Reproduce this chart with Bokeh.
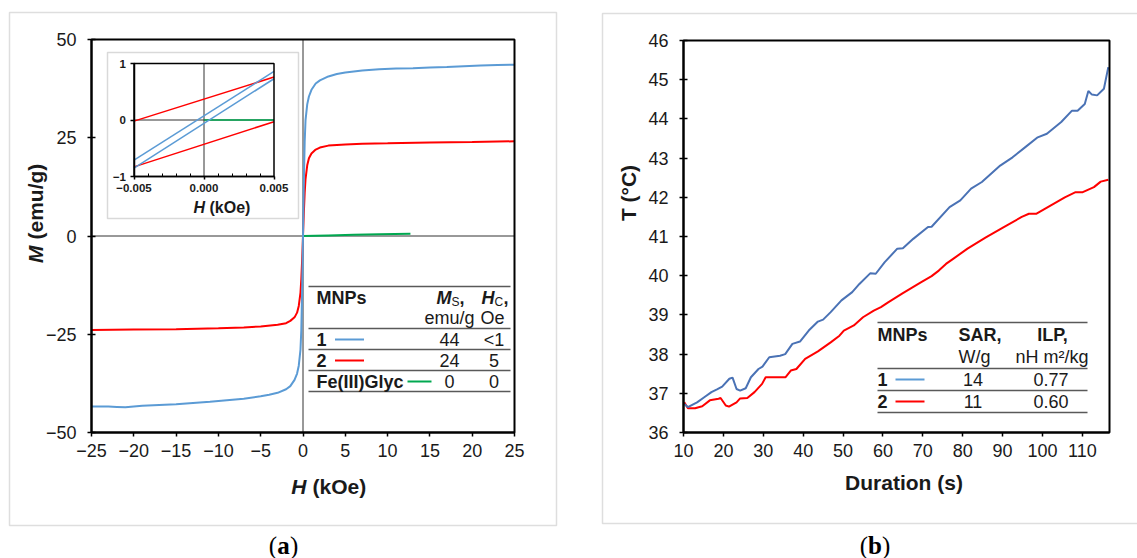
import math
from bokeh.plotting import figure
from bokeh.models import Range1d, LinearAxis, FixedTicker, Label
from bokeh.layouts import row
from bokeh.embed import file_html
from bokeh.resources import INLINE

SANS = "Liberation Sans"
SERIF = "Liberation Serif"
TXT = "#1a1a1a"

# ---------------- data: panel (a) magnetization curves ----------------
H_1 = [-25, -23, -22, -21, -19, -17, -15, -13, -11, -9, -7, -5, -4, -3, -2, -1.5, -1,
       -0.7, -0.5, -0.3, -0.2, -0.1, 0, 0.1, 0.2, 0.3, 0.5, 0.7, 1, 1.5, 2, 3, 4, 5,
       7, 9, 11, 13, 15, 17, 19, 21, 23, 25]
M_1 = [-43.4, -43.4, -43.5, -43.6, -43.2, -43.0, -42.8, -42.5, -42.2, -41.8, -41.4, -40.8,
       -40.4, -39.9, -39.0, -38.2, -36.6, -35.0, -33.0, -29.0, -24.0, -14.0, 0.0, 14.0,
       24.0, 29.5, 33.5, 35.5, 37.2, 38.8, 39.6, 40.6, 41.2, 41.6, 42.1, 42.4, 42.6,
       42.7, 42.9, 43.0, 43.2, 43.4, 43.5, 43.6]
H_2 = [-25, -20, -15, -10, -7, -5, -3, -2, -1.5, -1, -0.7, -0.5, -0.3, -0.2, -0.1, 0,
       0.1, 0.2, 0.3, 0.5, 0.7, 1, 1.5, 2, 3, 5, 7, 10, 15, 20, 25]
M_2 = [-23.9, -23.8, -23.7, -23.5, -23.3, -23.0, -22.6, -22.2, -21.6, -20.7, -19.5, -17.8,
       -14.5, -11.0, -6.0, 0.0, 6.0, 11.0, 14.5, 18.0, 19.8, 21.0, 22.0, 22.5, 23.0, 23.3,
       23.5, 23.6, 23.8, 23.9, 24.1]
H_3 = [0, 3, 6, 9, 12.7]
M_3 = [0, 0.15, 0.3, 0.45, 0.6]

# inset (low field)
Hi = [-0.005, 0.005]
Mi1_up = [-0.71, 0.86]
Mi1_dn = [-0.85, 0.73]
Mi2_up = [-0.02, 0.76]
Mi2_dn = [-0.83, -0.03]
Hi3 = [0.0, 0.005]
Mi3 = [0.0, 0.0]

# table (a)
tabA_names = ["1", "2", "Fe(III)Glyc"]
tabA_Ms = ["44", "24", "0"]
tabA_Hc = ["<1", "5", "0"]

xticks_a = [-25, -20, -15, -10, -5, 0, 5, 10, 15, 20, 25]
yticks_a = [-50, -25, 0, 25, 50]
xticks_in = [-0.005, 0.0, 0.005]
xminor_in = [-0.004, -0.003, -0.002, -0.001, 0.001, 0.002, 0.003, 0.004]
yticks_in = [-1, 0, 1]

# ---------------- data: panel (b) heating curves ----------------
t_1 = [10.2, 11.1, 13.4, 15.2, 17, 18.4, 19.7, 21.5, 22.3, 23.3, 24.2, 25.6, 26.9, 28.8,
       29.8, 31.5, 34.2, 35.5, 37.3, 39.2, 41.4, 43.7, 45, 46.9, 49.6, 52.3, 54.1, 56.8,
       58.2, 60.4, 63.6, 65, 67.6, 71.3, 72.2, 76.7, 79.4, 82.1, 84.8, 89.4, 92.5, 95.7,
       98.8, 101.1, 104.7, 107.4, 108.8, 110.6, 111.5, 112.4, 113.7, 115.4, 116.5]
T_1 = [36.73, 36.65, 36.77, 36.9, 37.03, 37.1, 37.17, 37.37, 37.4, 37.11, 37.07, 37.13,
       37.41, 37.62, 37.68, 37.92, 37.96, 38.0, 38.26, 38.32, 38.6, 38.83, 38.88, 39.07,
       39.37, 39.58, 39.79, 40.06, 40.05, 40.34, 40.69, 40.7, 40.94, 41.24, 41.25, 41.75,
       41.92, 42.22, 42.39, 42.81, 43.02, 43.28, 43.53, 43.62, 43.92, 44.21, 44.21, 44.38,
       44.71, 44.62, 44.6, 44.77, 45.32]
t_2 = [10.2, 11.1, 12.9, 14.7, 16.6, 18.8, 19.3, 20.6, 21.4, 23.3, 24.2, 26.0, 27.8, 29.7,
       30.6, 32.4, 35.6, 36.9, 38.3, 40.5, 43.7, 46.9, 49.1, 50.2, 52.7, 55, 57.7, 59.5,
       61.3, 64.9, 67.2, 69.5, 72.2, 74, 75.8, 77.6, 81.2, 85.7, 90.3, 94.8, 96.6, 98.4,
       102, 105.6, 108.3, 110.1, 112.9, 114.6, 116.5]
T_2 = [36.77, 36.62, 36.62, 36.67, 36.82, 36.86, 36.88, 36.69, 36.66, 36.77, 36.87, 36.88,
       37.03, 37.24, 37.41, 37.41, 37.41, 37.58, 37.62, 37.88, 38.07, 38.3, 38.47, 38.6,
       38.73, 38.94, 39.11, 39.2, 39.32, 39.55, 39.69, 39.83, 39.99, 40.13, 40.3, 40.43,
       40.69, 40.97, 41.24, 41.5, 41.58, 41.58, 41.79, 42.0, 42.13, 42.13, 42.26, 42.4,
       42.45]
tabB_SAR = ["14", "11"]
tabB_ILP = ["0.77", "0.60"]
xticks_b = [10, 20, 30, 40, 50, 60, 70, 80, 90, 100, 110]
yticks_b = [36, 37, 38, 39, 40, 41, 42, 43, 44, 45, 46]

BLUE_A = "#5b9bd5"
RED = "#ff0000"
GREEN = "#00a850"
BLUE_B = "#4a72b5"

# ---------------- layout constants (page pixels) ----------------
WA, WB, HH = 560, 577, 558
AL, AR, AT, AB = 91, 514, 39, 432          # data box of (a)
BL, BR, BT, BB = 683, 1109, 40, 432        # data box of (b)
IL, IR, IT, IB = 133.5, 273.5, 63, 176     # inset axes box
XA0, XA1, YA0, YA1 = -25, 25, -50, 50
XB0, XB1, YB0, YB1 = 10, 116.8, 36, 46


def mapper(L, R, T, B, x0, x1, y0, y1):
    def f(px, py):
        return (x0 + (px - L) * (x1 - x0) / (R - L),
                y1 - (py - T) * (y1 - y0) / (B - T))
    return f


def style_axis(ax, size="18px", lw=2):
    ax.axis_line_color = "black"
    ax.axis_line_width = lw
    ax.major_tick_line_color = "black"
    ax.major_tick_line_width = 1.5
    ax.minor_tick_line_color = None
    ax.major_label_text_font = SANS
    ax.major_label_text_font_size = size
    ax.major_label_text_color = TXT


def lab(p, m, px, py, text, size=18, style="normal", align="left", angle=0.0,
        font=SANS, color=TXT):
    x, y = m(px, py)
    p.add_layout(Label(x=x, y=y, text=text, text_font=font, text_font_size=f"{size}px",
                       text_font_style=style, text_align=align, text_baseline="middle",
                       text_color=color, angle=angle))


def hline(p, m, x0, x1, y, color="#595959", width=1.5):
    a = m(x0, y)
    b = m(x1, y)
    p.segment(x0=[a[0]], y0=[a[1]], x1=[b[0]], y1=[b[1]], line_color=color, line_width=width)


def caption(p, m, cx, cy, letter, wl):
    lab(p, m, cx, cy, letter, size=25, style="bold", align="center", font=SERIF, color="black")
    lab(p, m, cx - wl / 2, cy, "(", size=25, align="right", font=SERIF, color="black")
    lab(p, m, cx + wl / 2, cy, ")", size=25, align="left", font=SERIF, color="black")


def panel_frame(p, m, l, r, t, b):
    x0, y1 = m(l, t)
    x1, y0 = m(r, b)
    p.quad(left=[x0], right=[x1], bottom=[y0], top=[y1], fill_color=None,
           line_color="#dedede", line_width=1.5)


def make_fig(width, m, page_left):
    x0, y1 = m(page_left, 0)
    x1, y0 = m(page_left + width, HH)
    p = figure(width=width, height=HH, x_range=Range1d(x0, x1), y_range=Range1d(y0, y1),
               output_backend="svg", toolbar_location=None,
               x_axis_location=None, y_axis_location=None,
               min_border=0, min_border_left=0, min_border_right=0,
               min_border_top=0, min_border_bottom=0)
    p.grid.visible = False
    p.background_fill_color = "white"
    p.border_fill_color = "white"
    p.outline_line_color = None
    return p


# ======================= panel (a) =======================
ma = mapper(AL, AR, AT, AB, XA0, XA1, YA0, YA1)
pa = make_fig(WA, ma, 0)
panel_frame(pa, ma, 9, 556, 12, 525)

# zero lines
pa.segment(x0=[0, XA0], y0=[YA0, 0], x1=[0, XA1], y1=[YA1, 0],
           line_color="#333333", line_width=1)

pa.line(H_3, M_3, line_color=GREEN, line_width=2)
pa.line(H_2, M_2, line_color=RED, line_width=2)
pa.line(H_1, M_1, line_color=BLUE_A, line_width=2)

# plot box
pa.quad(left=[XA0], right=[XA1], bottom=[YA0], top=[YA1], fill_color=None,
        line_color="black", line_width=2)

xa = LinearAxis(fixed_location=YA0, bounds=(XA0, XA1), ticker=FixedTicker(ticks=xticks_a))
style_axis(xa)
xa.major_label_overrides = {v: str(v).replace("-", "\u2212") for v in xticks_a}
xa.major_tick_in, xa.major_tick_out, xa.major_label_standoff = 0, 4, 7
pa.add_layout(xa, "below")
ya = LinearAxis(fixed_location=XA0, bounds=(YA0, YA1), ticker=FixedTicker(ticks=yticks_a))
style_axis(ya)
ya.major_label_overrides = {v: str(v).replace("-", "\u2212") for v in yticks_a}
ya.major_tick_in, ya.major_tick_out, ya.major_label_standoff = 4, 4, 11
pa.add_layout(ya, "left")

# ---- inset via extra ranges ----
sx = 0.01 / (IR - IL)
sy = 2.0 / (IB - IT)
ix0 = -0.005 - IL * sx
ix1 = ix0 + WA * sx
iy1 = 1 + IT * sy
iy0 = iy1 - HH * sy
pa.extra_x_ranges = {"ix": Range1d(ix0, ix1)}
pa.extra_y_ranges = {"iy": Range1d(iy0, iy1)}
mi = mapper(0, WA, 0, HH, ix0, ix1, iy0, iy1)

fx0, fy1 = mi(107, 52)
fx1, fy0 = mi(298, 218)
pa.quad(left=[fx0], right=[fx1], bottom=[fy0], top=[fy1], fill_color="white",
        line_color="#d9d9d9", line_width=1.5, x_range_name="ix", y_range_name="iy")
pa.segment(x0=[0, Hi[0]], y0=[yticks_in[0], 0], x1=[0, Hi[1]], y1=[yticks_in[-1], 0],
           line_color="#333333", line_width=1, x_range_name="ix", y_range_name="iy")
pa.line(Hi3, Mi3, line_color=GREEN, line_width=1.5, x_range_name="ix", y_range_name="iy")
for mm in (Mi2_up, Mi2_dn):
    pa.line(Hi, mm, line_color=RED, line_width=1.5, x_range_name="ix", y_range_name="iy")
for mm in (Mi1_up, Mi1_dn):
    pa.line(Hi, mm, line_color=BLUE_A, line_width=1.5, x_range_name="ix", y_range_name="iy")
pa.quad(left=[xticks_in[0]], right=[xticks_in[-1]], bottom=[yticks_in[0]], top=[yticks_in[-1]],
        fill_color=None, line_color="black", line_width=1.5, x_range_name="ix", y_range_name="iy")

iya = LinearAxis(x_range_name="ix", y_range_name="iy", fixed_location=xticks_in[0],
                 bounds=(yticks_in[0], yticks_in[-1]), ticker=FixedTicker(ticks=yticks_in))
style_axis(iya, "11.5px", 1.5)
iya.major_label_text_font_style = "bold"
iya.major_tick_in, iya.major_tick_out, iya.major_label_standoff = 0, 4, 4
iya.major_label_overrides = {-1: "\u22121", 0: "0", 1: "1"}
pa.add_layout(iya, "left")

ixa = LinearAxis(x_range_name="ix", y_range_name="iy", fixed_location=yticks_in[0],
                 bounds=(xticks_in[0], xticks_in[-1]),
                 ticker=FixedTicker(ticks=xticks_in, minor_ticks=xminor_in))
style_axis(ixa, "11.5px", 1.5)
ixa.major_label_text_font_style = "bold"
ixa.minor_tick_line_color = "black"
ixa.minor_tick_in, ixa.minor_tick_out = 3, 0
ixa.major_tick_in, ixa.major_tick_out, ixa.major_label_standoff = 0, 3, 4
ixa.major_label_overrides = {-0.005: "\u22120.005", 0.0: "0.000", 0.005: "0.005"}
pa.add_layout(ixa, "below")

lab(pa, ma, 204.5, 207, "H", size=16, style="bold italic", align="right")
lab(pa, ma, 209, 207, "(kOe)", size=16, style="bold")

# ---- axis titles (a) ----
lab(pa, ma, 306, 486, "H", size=21, style="bold italic", align="right")
lab(pa, ma, 312, 486, "(kOe)", size=21, style="bold")
lab(pa, ma, 35, 245, "M", size=21, style="bold italic", align="right", angle=math.pi / 2)
lab(pa, ma, 35, 239, "(emu/g)", size=21, style="bold", align="left", angle=math.pi / 2)

# ---- table (a) ----
for yy in (286, 328, 349, 370, 391):
    hline(pa, ma, 308, 510, yy)
lab(pa, ma, 316, 297, "MNPs", style="bold")
lab(pa, ma, 436, 297, "M", style="bold italic")
lab(pa, ma, 451, 301, "S", size=12)
lab(pa, ma, 459, 297, ",", style="bold")
lab(pa, ma, 481, 297, "H", style="bold italic")
lab(pa, ma, 494, 301, "C", size=12)
lab(pa, ma, 503, 297, ",", style="bold")
lab(pa, ma, 474, 317, "emu/g", align="right")
lab(pa, ma, 504, 317, "Oe", align="right")
rows_y = [339, 360, 381]
samp = [(334.5, 363.5), (334.5, 363.5), (407, 431)]
cols = [BLUE_A, RED, GREEN]
for i in range(3):
    lab(pa, ma, 316, rows_y[i], tabA_names[i], style="bold")
    hline(pa, ma, samp[i][0], samp[i][1], rows_y[i], color=cols[i], width=2)
    lab(pa, ma, 449, rows_y[i], tabA_Ms[i], align="center")
    lab(pa, ma, 493.5, rows_y[i], tabA_Hc[i], align="center")

caption(pa, ma, 283, 545, "a", 13)

# ======================= panel (b) =======================
mb = mapper(BL, BR, BT, BB, XB0, XB1, YB0, YB1)
pb = make_fig(WB, mb, WA)
panel_frame(pb, mb, 602, 1160, 13, 523)

pb.line(t_2, T_2, line_color=RED, line_width=2)
pb.line(t_1, T_1, line_color=BLUE_B, line_width=2)

pb.quad(left=[XB0], right=[XB1], bottom=[YB0], top=[YB1], fill_color=None,
        line_color="black", line_width=2)

xb = LinearAxis(fixed_location=YB0, bounds=(XB0, XB1), ticker=FixedTicker(ticks=xticks_b))
style_axis(xb)
xb.major_tick_in, xb.major_tick_out, xb.major_label_standoff = 0, 4, 7
pb.add_layout(xb, "below")
yb = LinearAxis(fixed_location=XB0, bounds=(YB0, YB1), ticker=FixedTicker(ticks=yticks_b))
style_axis(yb)
yb.major_tick_in, yb.major_tick_out, yb.major_label_standoff = 4, 4, 11
pb.add_layout(yb, "left")

lab(pb, mb, 903.5, 482, "Duration (s)", size=21, style="bold", align="center")
lab(pb, mb, 628, 192.5, "T (°C)", size=21, style="bold", align="center", angle=math.pi / 2)

for yy in (322, 368, 390, 412):
    hline(pb, mb, 877, 1087, yy)
lab(pb, mb, 877, 334, "MNPs", style="bold")
lab(pb, mb, 958, 334, "SAR,", style="bold")
lab(pb, mb, 1052, 334, "ILP,", style="bold", align="center")
lab(pb, mb, 958, 356, "W/g")
lab(pb, mb, 1051.5, 356, "nH m²/kg", align="center")
rows_yb = [379, 401]
colsb = [BLUE_A, RED]
for i in range(2):
    lab(pb, mb, 877, rows_yb[i], str(i + 1), style="bold")
    hline(pb, mb, 895, 924, rows_yb[i], color=colsb[i], width=2)
    lab(pb, mb, 972.5, rows_yb[i], tabB_SAR[i], align="center")
    lab(pb, mb, 1050.5, rows_yb[i], tabB_ILP[i], align="center")

caption(pb, mb, 874.5, 545, "b", 14)

layout = row(pa, pb)
open("out.html", "w").write(file_html(layout, INLINE))
